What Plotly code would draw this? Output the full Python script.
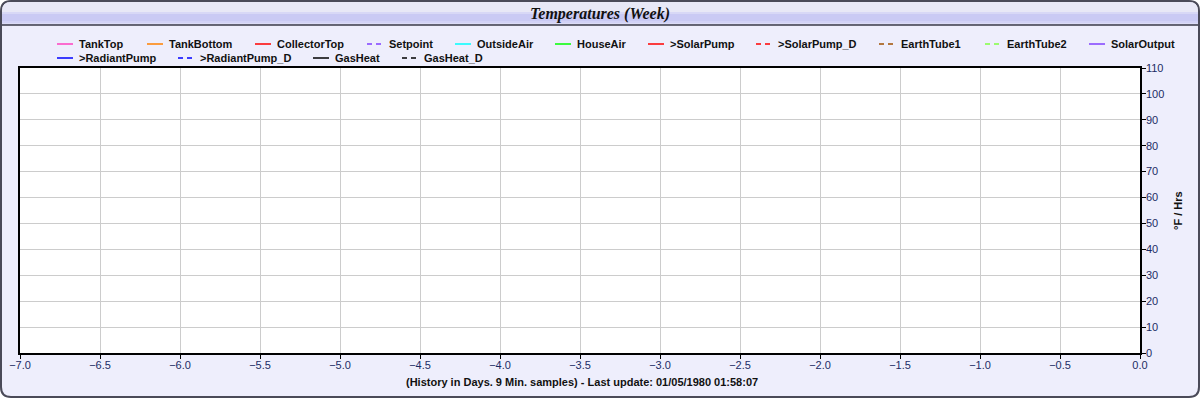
import plotly.graph_objects as go

# ---- data (the reference chart has no samples plotted) ----
history_days = []          # x: days before last update
tank_top = []
tank_bottom = []
collector_top = []
setpoint = []
outside_air = []
house_air = []
solar_pump = []
solar_pump_d = []
earth_tube1 = []
earth_tube2 = []
solar_output = []
radiant_pump = []
radiant_pump_d = []
gas_heat = []
gas_heat_d = []

series_names = ["TankTop", "TankBottom", "CollectorTop", "Setpoint", "OutsideAir",
                "HouseAir", ">SolarPump", ">SolarPump_D", "EarthTube1", "EarthTube2",
                "SolarOutput", ">RadiantPump", ">RadiantPump_D", "GasHeat", "GasHeat_D"]
series_values = [tank_top, tank_bottom, collector_top, setpoint, outside_air,
                 house_air, solar_pump, solar_pump_d, earth_tube1, earth_tube2,
                 solar_output, radiant_pump, radiant_pump_d, gas_heat, gas_heat_d]
series_colors = ["#ff40c0", "#ff8000", "#ff0000", "#8040ff", "#00ffff",
                 "#00ff00", "#ff0000", "#ff0000", "#a05000", "#80ff40",
                 "#8040ff", "#0000ff", "#0000ff", "#000000", "#000000"]
series_dash = ["solid", "solid", "solid", "dash", "solid",
               "solid", "solid", "dash", "dash", "dash",
               "solid", "solid", "dash", "solid", "dash"]

x_range = [-7.0, 0.0]
y_range = [0, 110]
title_text = "Temperatures (Week)"
x_title = "(History in Days. 9 Min. samples) - Last update: 01/05/1980 01:58:07"
y_title = "°F / Hrs"

# ---- layout geometry (pixels) ----
W, H = 1200, 400
L, R, T, B = 20, 60, 68, 47
PW, PH = W - L - R, H - T - B

# legend layout: (text-left x, row centre y) per series, in pixels
legend_pos = [(78, 44), (168, 44), (276, 44), (388, 44), (476, 44), (576, 44),
              (669, 44), (777, 44), (900, 44), (1006, 44), (1110, 44),
              (78, 58), (199, 58), (334, 58), (423, 58)]


def px(x):
    return (x - L) / PW


def py(y):
    return (H - B - y) / PH


DASH = "5px,4px"

fig = go.Figure()
for name, vals, col, dash in zip(series_names, series_values, series_colors, series_dash):
    fig.add_trace(go.Scatter(
        x=history_days if vals else [None], y=vals if vals else [None],
        mode="lines", name=name, showlegend=False,
        line=dict(color=col, width=1.5, dash=DASH if dash == "dash" else "solid"),
    ))

shapes = []


def rounded_path(x0, y0, x1, y1, r, top_only=False):
    pts = [f"M{px(x0)},{py(y0 + r)}",
           f"Q{px(x0)},{py(y0)} {px(x0 + r)},{py(y0)}",
           f"L{px(x1 - r)},{py(y0)}",
           f"Q{px(x1)},{py(y0)} {px(x1)},{py(y0 + r)}"]
    if top_only:
        pts += [f"L{px(x1)},{py(y1)}", f"L{px(x0)},{py(y1)}"]
    else:
        pts += [f"L{px(x1)},{py(y1 - r)}",
                f"Q{px(x1)},{py(y1)} {px(x1 - r)},{py(y1)}",
                f"L{px(x0 + r)},{py(y1)}",
                f"Q{px(x0)},{py(y1)} {px(x0)},{py(y1 - r)}"]
    pts.append("Z")
    return " ".join(pts)


# outer lavender panel
shapes.append(dict(type="path", xref="paper", yref="paper", layer="below",
                   path=rounded_path(1, 1, 1199, 397, 10),
                   fillcolor="#eeeefc", line=dict(color="#4a4a58", width=2)))
# title bar gradient bands
shapes.append(dict(type="path", xref="paper", yref="paper", layer="below",
                   path=rounded_path(2, 2, 1198, 12, 9, top_only=True),
                   fillcolor="#e8e8f6", line=dict(width=0)))
bands = [(12, 14, "#d8d8f6"), (14, 21, "#cacaf4"), (21, 23, "#d2d2f6"), (23, 25, "#dcdcf6")]
for y0, y1, c in bands:
    shapes.append(dict(type="rect", xref="paper", yref="paper", layer="below",
                       x0=px(2), x1=px(1198), y0=py(y0), y1=py(y1),
                       fillcolor=c, line=dict(width=0)))
shapes.append(dict(type="line", xref="paper", yref="paper", layer="below",
                   x0=px(2), x1=px(1198), y0=py(25), y1=py(25),
                   line=dict(color="#3a3a48", width=1.5)))
# white plot area
shapes.append(dict(type="rect", xref="paper", yref="paper", layer="below",
                   x0=0, x1=1, y0=0, y1=1, fillcolor="white", line=dict(width=0)))

annotations = [
    dict(text=f"<b><i>{title_text}</i></b>", xref="paper", yref="paper",
         x=px(600), y=py(14), showarrow=False, xanchor="center", yanchor="middle",
         font=dict(family="Liberation Serif", size=16, color="#111111")),
    dict(text=f"<b>{x_title}</b>", xref="paper", yref="paper",
         x=px(582), y=py(382), showarrow=False, xanchor="center", yanchor="middle",
         font=dict(family="Liberation Sans", size=11, color="#111111")),
    dict(text=f"<b>{y_title}</b>", xref="paper", yref="paper",
         x=px(1178), y=py(211), showarrow=False, textangle=-90,
         xanchor="center", yanchor="middle",
         font=dict(family="Liberation Sans", size=11, color="#111111")),
]

# custom legend (line sample + label per series)
for name, col, dash, (tx, ty) in zip(series_names, series_colors, series_dash, legend_pos):
    shapes.append(dict(type="line", xref="paper", yref="paper", layer="above",
                       x0=px(tx - 21), x1=px(tx - 5), y0=py(ty), y1=py(ty),
                       line=dict(color=col, width=1.5, dash=DASH if dash == "dash" else "solid")))
    annotations.append(dict(text=f"<b>{name}</b>", xref="paper", yref="paper",
                            x=px(tx), y=py(ty), showarrow=False,
                            xanchor="left", yanchor="middle", borderpad=0,
                            font=dict(family="Liberation Sans", size=11, color="#111111")))

tick_font = dict(family="Liberation Sans", size=11, color="#1c2c64")

fig.update_layout(
    width=W, height=H,
    margin=dict(l=L, r=R, t=T, b=B, pad=0, autoexpand=False),
    paper_bgcolor="white", plot_bgcolor="white",
    shapes=shapes, annotations=annotations,
    showlegend=False,
    xaxis=dict(range=x_range, dtick=0.5, tick0=-7, tickformat=".1f",
               showgrid=True, gridcolor="#cccccc", gridwidth=1,
               showline=True, linecolor="black", linewidth=1.5, mirror=True,
               ticks="outside", ticklen=4, tickcolor="black", tickwidth=1,
               ticklabelstandoff=-3,
               tickfont=tick_font, zeroline=False, fixedrange=True),
    yaxis=dict(range=y_range, dtick=10, side="right",
               showgrid=True, gridcolor="#cccccc", gridwidth=1,
               showline=True, linecolor="black", linewidth=1.5, mirror=True,
               ticks="outside", ticklen=4, tickcolor="black", tickwidth=1,
               ticklabelstandoff=-2,
               tickfont=tick_font, zeroline=False, fixedrange=True),
)

fig.write_html("out.html", config={"displayModeBar": False},
               post_script="document.body.style.margin='0';document.body.style.overflow='hidden';")
